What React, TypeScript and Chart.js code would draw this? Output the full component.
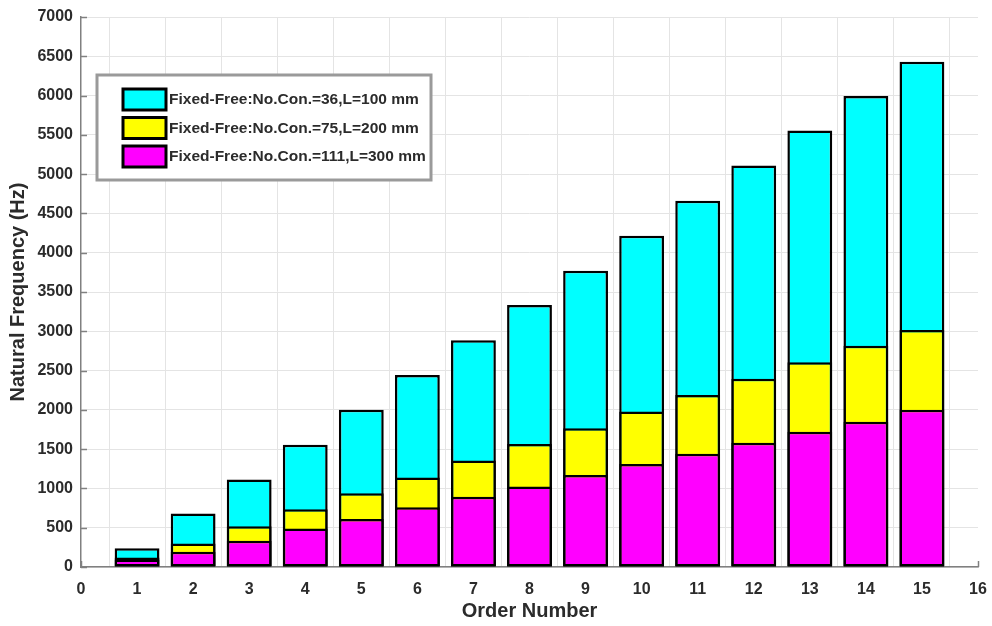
import React, { useEffect, useRef } from "react";
import { Chart, registerables } from "chart.js";

Chart.register(...registerables);

// ---- data ----
const orderNumbers = [1, 2, 3, 4, 5, 6, 7, 8, 9, 10, 11, 12, 13, 14, 15];
const cyanValues = [240, 680, 1115, 1555, 2000, 2445, 2885, 3335, 3770, 4215, 4660, 5110, 5555, 5995, 6430];
const yellowValues = [120, 300, 520, 735, 940, 1140, 1355, 1565, 1765, 1980, 2190, 2395, 2605, 2815, 3015];
const magentaValues = [95, 195, 335, 490, 610, 760, 895, 1025, 1170, 1310, 1440, 1580, 1720, 1850, 2000];
const seriesLabels = [
  "Fixed-Free:No.Con.=36,L=100 mm",
  "Fixed-Free:No.Con.=75,L=200 mm",
  "Fixed-Free:No.Con.=111,L=300 mm",
];
const seriesColors = ["#00FFFF", "#FFFF00", "#FF00FF"];
const xMin = 0;
const xMax = 16;
const yMin = 0;
const yMax = 7000;
const yStep = 500;
const xTitle = "Order Number";
const yTitle = "Natural Frequency (Hz)";

const FONT = "'Liberation Sans', Arial, Helvetica, sans-serif";
const TEXT_COLOR = "#2b2b2b";
const AXIS_COLOR = "#808080";

const decorPlugin = {
  id: "decor",
  beforeDatasetsDraw(chart: any) {
    const { ctx, chartArea, scales } = chart;
    const x = scales.x;
    const y = scales.y;
    ctx.save();
    ctx.strokeStyle = AXIS_COLOR;
    ctx.lineWidth = 1.5;
    y.ticks.forEach((t: any) => {
      const py = Math.round(y.getPixelForValue(t.value)) + 0.5;
      ctx.beginPath();
      ctx.moveTo(chartArea.left, py);
      ctx.lineTo(chartArea.left + 6, py);
      ctx.stroke();
    });
    x.ticks.forEach((t: any) => {
      const px = Math.round(x.getPixelForValue(t.value)) + 0.5;
      ctx.beginPath();
      ctx.moveTo(px, chartArea.bottom);
      ctx.lineTo(px, chartArea.bottom - 6);
      ctx.stroke();
    });
    ctx.restore();
  },
  afterDraw(chart: any) {
    const { ctx } = chart;
    ctx.save();
    // legend box
    const bx = 97, by = 75, bw = 334, bh = 105;
    ctx.fillStyle = "#ffffff";
    ctx.fillRect(bx, by, bw, bh);
    ctx.strokeStyle = "#9a9a9a";
    ctx.lineWidth = 3;
    ctx.strokeRect(bx, by, bw, bh);
    ctx.font = `bold 15.5px ${FONT}`;
    ctx.textBaseline = "middle";
    ctx.textAlign = "left";
    for (let i = 0; i < seriesLabels.length; i++) {
      const sy = 89 + i * 28.5;
      ctx.fillStyle = seriesColors[i];
      ctx.fillRect(123, sy, 43, 21);
      ctx.strokeStyle = "#000";
      ctx.lineWidth = 3;
      ctx.strokeRect(123, sy, 43, 21);
      ctx.fillStyle = TEXT_COLOR;
      ctx.fillText(seriesLabels[i], 169, sy + 11);
    }
    ctx.restore();
  },
};

export default function App() {
  const canvasRef = useRef<HTMLCanvasElement | null>(null);

  useEffect(() => {
    const canvas = canvasRef.current;
    if (!canvas) return;
    const seriesValues = [cyanValues, yellowValues, magentaValues];
    const datasets = seriesValues.map((vals, si) => ({
      label: seriesLabels[si],
      data: vals.map((v, i) => ({ x: orderNumbers[i], y: v })),
      backgroundColor: seriesColors[si],
      borderColor: "#000000",
      borderWidth: 2.5,
      borderSkipped: false as any,
      grouped: false,
      barPercentage: 0.8,
      categoryPercentage: 1.0,
      // magenta on top: lower order drawn last
      order: seriesValues.length - 1 - si,
    }));

    const chart = new Chart(canvas, {
      type: "bar",
      data: { datasets },
      plugins: [decorPlugin],
      options: {
        animation: false,
        responsive: false,
        maintainAspectRatio: false,
        layout: { padding: { left: 0, right: 14, top: 17, bottom: 0 } },
        plugins: {
          legend: { display: false },
          tooltip: { enabled: false },
        },
        scales: {
          x: {
            type: "linear",
            min: xMin,
            max: xMax,
            offset: false,
            afterFit: (s: any) => {
              s.height = 59;
              s.paddingLeft = 0;
              s.paddingRight = 0;
            },
            ticks: {
              stepSize: 1,
              autoSkip: false,
              maxRotation: 0,
              padding: 13,
              color: TEXT_COLOR,
              font: { family: FONT, size: 16, weight: "bold" },
              callback: (v: any) => String(v),
            },
            grid: { color: "#e4e4e4", lineWidth: 1, drawTicks: false },
            border: { display: true, color: AXIS_COLOR, width: 1.5 },
            title: {
              display: true,
              text: xTitle,
              color: TEXT_COLOR,
              font: { family: FONT, size: 20, weight: "bold" },
              padding: { top: 0, bottom: 3 },
            },
          },
          y: {
            type: "linear",
            min: yMin,
            max: yMax,
            afterFit: (s: any) => {
              s.width = 81;
              s.paddingTop = 0;
              s.paddingBottom = 0;
            },
            ticks: {
              stepSize: yStep,
              autoSkip: false,
              padding: 8,
              color: TEXT_COLOR,
              font: { family: FONT, size: 16, weight: "bold" },
              callback: (v: any) => String(v),
            },
            grid: { color: "#e4e4e4", lineWidth: 1, drawTicks: false },
            border: { display: true, color: AXIS_COLOR, width: 1.5 },
            title: {
              display: true,
              text: yTitle,
              color: TEXT_COLOR,
              font: { family: FONT, size: 20, weight: "bold" },
              padding: { top: 6, bottom: 0 },
            },
          },
        },
      } as any,
    });
    return () => chart.destroy();
  }, []);

  return (
    <div style={{ position: "absolute", left: 0, top: 0, width: 992, height: 626, background: "#fff" }}>
      <canvas ref={canvasRef} width={992} height={626} style={{ width: 992, height: 626, display: "block" }} />
    </div>
  );
}
